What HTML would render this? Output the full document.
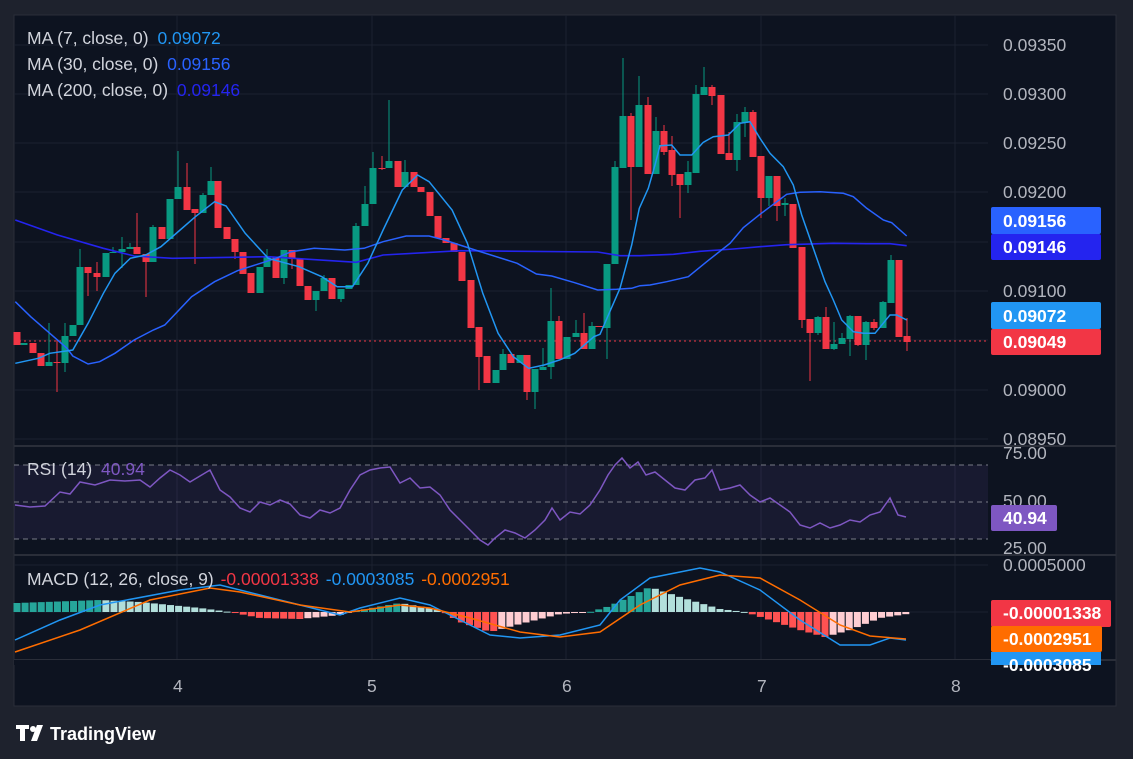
<!DOCTYPE html>
<html><head><meta charset="utf-8"><style>
html,body{margin:0;padding:0;background:#1e222d;}
body{width:1133px;height:759px;overflow:hidden;position:relative;font-family:"Liberation Sans",sans-serif;}
svg{position:absolute;left:0;top:0;}
</style></head><body>
<svg id="s" width="1133" height="759" xmlns="http://www.w3.org/2000/svg" font-family="Liberation Sans, sans-serif">
<rect x="0" y="0" width="1133" height="759" fill="#1e222d"/>
<rect x="14" y="15" width="1102" height="691" fill="#0d1320" stroke="#2a2e39"/>
<g stroke="#1c2230" stroke-width="1">
<line x1="14" y1="45" x2="988" y2="45"/><line x1="14" y1="94" x2="988" y2="94"/><line x1="14" y1="143" x2="988" y2="143"/><line x1="14" y1="192" x2="988" y2="192"/><line x1="14" y1="242" x2="988" y2="242"/><line x1="14" y1="291" x2="988" y2="291"/><line x1="14" y1="340" x2="988" y2="340"/><line x1="14" y1="390" x2="988" y2="390"/><line x1="14" y1="439" x2="988" y2="439"/>
<line x1="177" y1="15" x2="177" y2="660"/><line x1="372" y1="15" x2="372" y2="660"/><line x1="566" y1="15" x2="566" y2="660"/><line x1="761" y1="15" x2="761" y2="660"/><line x1="955" y1="15" x2="955" y2="660"/>
<line x1="14" y1="565" x2="988" y2="565"/><line x1="14" y1="612" x2="988" y2="612"/>
</g>
<g stroke="#2a2e39" stroke-width="2"><line x1="14" y1="446" x2="1116" y2="446"/><line x1="14" y1="555" x2="1116" y2="555"/><line x1="14" y1="660" x2="1116" y2="660"/></g>
<rect x="14" y="465" width="974" height="74" fill="#7e57c2" fill-opacity="0.1"/>
<g stroke="#787b86" stroke-dasharray="5,4" stroke-width="1"><line x1="14" y1="465" x2="988" y2="465"/><line x1="14" y1="502" x2="988" y2="502"/><line x1="14" y1="539" x2="988" y2="539"/></g>
<line x1="14" y1="341" x2="988" y2="341" stroke="#f23645" stroke-dasharray="2,3"/>
<g id="candles"></g>
<g id="lines"></g>
<g id="hist"></g>
<g fill="#b2b5be" font-size="17.5">
<text x="1003" y="51">0.09350</text><text x="1003" y="100">0.09300</text><text x="1003" y="149">0.09250</text><text x="1003" y="198">0.09200</text><text x="1003" y="297">0.09100</text><text x="1003" y="396">0.09000</text><text x="1003" y="445">0.08950</text>
<text x="1003" y="459">75.00</text><text x="1003" y="507">50.00</text><text x="1003" y="554">25.00</text>
<text x="1003" y="571">0.0005000</text>
<text x="173" y="692">4</text><text x="367" y="692">5</text><text x="562" y="692">6</text><text x="757" y="692">7</text><text x="951" y="692">8</text>
</g>
<g font-size="17.5" font-weight="bold" fill="#fff">
<rect x="991" y="207" width="110" height="27" rx="2" fill="#2962ff"/><text x="1003" y="227">0.09156</text>
<rect x="991" y="234" width="110" height="26" rx="2" fill="#2424ef"/><text x="1003" y="253">0.09146</text>
<rect x="991" y="302" width="110" height="27" rx="2" fill="#2196f3"/><text x="1003" y="322">0.09072</text>
<rect x="991" y="329" width="110" height="26" rx="2" fill="#f23645"/><text x="1003" y="348">0.09049</text>
<rect x="991" y="505" width="66" height="26" rx="2" fill="#7e57c2"/><text x="1003" y="524">40.94</text>
<rect x="991" y="652" width="110" height="13" fill="#2196f3"/><text x="1003" y="671">-0.0003085</text>
<rect x="991" y="600" width="120" height="27" rx="2" fill="#f23645"/><text x="1003" y="619">-0.00001338</text>
<rect x="991" y="626" width="111" height="26" rx="2" fill="#ff6d00"/><text x="1003" y="645">-0.0002951</text>
</g>
<rect x="14" y="660" width="976" height="5" fill="#0d1320"/>
<g font-size="17.5">
<text x="27" y="44" fill="#d1d4dc">MA (7, close, 0) <tspan fill="#2196f3" dx="4">0.09072</tspan></text>
<text x="27" y="70" fill="#d1d4dc">MA (30, close, 0) <tspan fill="#2962ff" dx="4">0.09156</tspan></text>
<text x="27" y="96" fill="#d1d4dc">MA (200, close, 0) <tspan fill="#2424ef" dx="4">0.09146</tspan></text>
<text x="27" y="475" fill="#d1d4dc">RSI (14) <tspan fill="#7e57c2" dx="4">40.94</tspan></text>
<text x="27" y="585" fill="#d1d4dc">MACD (12, 26, close, 9) <tspan fill="#f23645" dx="2">-0.00001338</tspan> <tspan fill="#2196f3" dx="2">-0.0003085</tspan> <tspan fill="#ff6d00" dx="2">-0.0002951</tspan></text>
</g>
<g fill="#fff"><path d="M16 725 h13 v4 h-4 v12 h-5 v-12 h-4z"/><circle cx="33" cy="729" r="3"/><path d="M37 725 h6 l-6 16 h-6z"/></g>
<text x="50" y="740" font-size="18" font-weight="bold" fill="#fff">TradingView</text>
</svg>
<script>
var C=[[17,332,345,'R'],[24,343,345,'G'],[33,343,353,'R'],[41,353,366,'R'],[49,362,366,'G',323,366],[57,362,363,'R',340,392],[65,336,363,'G',323,372],[73,325,336,'G'],[80,267,325,'G',249,325],[88,267,273,'R',267,296],[97,273,277,'R',262,291],[106,253,277,'G'],[113,252,253,'G',247,253],[122,249,252,'G',237,268],[130,247,249,'G',243,249],[137,247,254,'R',213,254],[146,254,262,'R',254,297],[153,227,262,'G',225,262],[162,227,239,'R'],[170,199,239,'G'],[178,187,199,'G',151,199],[187,187,210,'R',163,210],[195,209,213,'R',209,264],[203,195,213,'G',193,213],[211,181,195,'G',167,195],[218,181,228,'R'],[227,227,239,'R'],[235,239,252,'R',239,259],[243,252,274,'R'],[251,273,293,'R'],[260,267,293,'G'],[267,257,267,'G',249,267],[276,257,278,'R'],[284,250,278,'G',250,284],[292,250,259,'R',250,269],[300,259,286,'R'],[308,286,300,'R'],[316,291,300,'G',291,311],[324,278,291,'G',275,291],[332,278,299,'R'],[341,289,299,'G',289,302],[349,285,289,'G'],[356,226,285,'G',223,285],[365,204,226,'G',186,226],[373,168,204,'G',152,204],[382,168,169,'R',156,170],[389,161,168,'G',100,168],[398,161,187,'R'],[405,172,187,'G',160,187],[414,172,187,'R'],[421,187,192,'R'],[430,192,216,'R'],[438,216,238,'R'],[446,238,243,'R'],[454,243,252,'R'],[462,252,281,'R'],[471,280,328,'R'],[479,327,357,'R',327,390],[487,356,383,'R'],[496,370,383,'G'],[503,354,370,'G',349,370],[511,354,363,'R'],[520,355,363,'G'],[527,355,392,'R',355,400],[535,369,392,'G',369,409],[543,367,370,'G',348,370],[551,321,367,'G',288,379],[559,321,359,'R',316,359],[567,337,359,'G'],[576,333,337,'G',320,337],[584,333,349,'R',313,349],[592,326,349,'G',322,349],[599,326,327,'R'],
[607,264,328,'G',264,359],[615,167,264,'G',161,264],[623,116,168,'G',58,168],[631,116,167,'R',113,220],[639,105,167,'G',76,167],[648,105,174,'R',97,174],[656,131,174,'G',117,174],[664,131,152,'R',125,155],[672,150,175,'R',136,186],[680,174,185,'R',174,218],[688,172,185,'G',161,193],[696,94,173,'G',85,173],[704,87,95,'G',67,95],[712,87,96,'R',85,105],[721,95,154,'R'],[729,153,160,'R',132,160],[737,122,160,'G',114,171],[745,112,123,'G',107,137],[753,112,157,'R',110,157],[761,156,198,'R',156,218],[769,176,198,'G',176,206],[777,176,206,'R',176,221],[785,203,205,'G',198,216],[793,204,248,'R'],[802,247,320,'R',247,328],[810,319,333,'R',319,381],[818,317,333,'G',316,335],[826,317,349,'R',307,349],[834,344,349,'G',322,350],[842,338,344,'G',333,344],[850,316,339,'G',315,356],[858,316,345,'R',316,346],[866,322,345,'G',321,360],[874,322,328,'R',319,330],[883,302,328,'G',301,328],[891,260,303,'G',255,303],[899,260,337,'R'],[907,336,342,'R',318,351]];
var h='';
C.forEach(function(c){var col=c[3]=='G'?'#089981':'#f23645';var wt=c[4]||c[1],wb=c[5]||c[2];
h+='<line x1="'+c[0]+'" y1="'+wt+'" x2="'+c[0]+'" y2="'+wb+'" stroke="'+col+'"/>';
h+='<rect x="'+(c[0]-3.5)+'" y="'+c[1]+'" width="7" height="'+Math.max(1,c[2]-c[1])+'" fill="'+col+'"/>';});
document.getElementById('candles').innerHTML=h;
function pl(pts,col,w){return '<polyline fill="none" stroke="'+col+'" stroke-width="'+(w||1.5)+'" points="'+pts.map(function(p){return p[0].toFixed(1)+','+p[1].toFixed(1)}).join(' ')+'"/>';}
function z1(a){return a.map(function(p){return [p[0]/2.61,p[1]/3]})}
function z3(a){return a.map(function(p){return [600+p[0]/3,55+p[1]/3]})}
var ma7=z1([[40,1090],[100,1075],[130,1060],[190,1050],[230,970],[270,880],[300,820],[340,775],[380,765],[420,740],[470,690],[510,650],[560,605],[590,618],[640,700],[700,775],[780,800],[840,830],[880,860],[920,860],[960,790],[1000,690],[1050,570],[1090,525],[1120,545],[1180,630],[1220,730],[1260,880],[1300,1000],[1340,1070],[1380,1105],[1420,1095],[1460,1080],[1500,1060],[1550,1010]]).concat(z3([[0,838],[60,700],[95,570],[118,460],[145,400],[165,330],[180,272],[215,270],[240,300],[275,300],[310,262],[340,245],[385,240],[420,205],[450,200],[480,250],[510,295],[550,335],[580,390],[605,480],[640,580],[675,680],[700,735],[725,795],[760,830],[790,835],[825,835],[870,780],[890,780],[920,795]]));
var ma30=z1([[40,905],[80,950],[130,1000],[175,1045],[190,1068],[230,1092],[260,1085],[300,1060],[350,1020],[400,990],[430,975],[500,890],[560,845],[620,812],[680,790],[720,775],[760,755],[820,745],[900,750],[950,745],[1000,725],[1060,708],[1120,708],[1160,720],[1240,750],[1350,790],[1400,822],[1440,828],[1500,848],[1560,870]]).concat(z3([[50,703],[95,700],[120,692],[150,690],[200,680],[265,665],[320,620],[390,565],[430,518],[480,478],[520,448],[560,418],[600,412],[660,410],[730,415],[760,425],[800,460],[850,495],[875,503],[920,543]]));
var ma200=z1([[40,660],[150,705],[270,745],[350,768],[450,775],[700,770],[930,787],[1000,765],[1200,752],[1560,756]]).concat(z3([[60,602],[120,602],[220,598],[300,589],[400,582],[480,575],[560,569],[700,565],[800,566],[870,566],[920,572]]));
var rsi=[[15,505],[30,507],[45,506],[60,492],[70,494],[80,482],[95,485],[110,480],[125,481],[140,480],[150,487],[160,478],[170,470],[180,475],[190,482],[200,476],[210,470],[220,490],[230,497],[240,508],[250,512],[260,502],[270,505],[280,500],[290,504],[300,515],[310,518],[320,510],[330,513],[340,508],[350,490],[360,475],[370,470],[380,468],[390,467],[400,483],[410,478],[420,488],[430,487],[440,495],[450,510],[460,520],[470,530],[480,540],[488,545],[495,538],[505,530],[515,533],[525,538],[535,530],[545,520],[552,508],[560,520],[570,512],[580,514],[590,505],[600,490],[608,475],[615,465],[622,458],[630,468],[638,462],[646,475],[655,472],[665,480],[675,488],[685,490],[695,480],[705,478],[712,470],[720,490],[730,488],[740,485],[750,495],[760,502],[770,498],[780,505],[790,512],[800,525],[810,528],[820,523],[830,528],[840,525],[850,520],[860,522],[870,515],[880,512],[890,498],[898,515],[906,517]];
var macd=[[15,640],[60,620],[100,605],[180,590],[220,585],[260,595],[300,605],[340,615],[360,608],[400,598],[430,605],[470,625],[490,635],[520,638],[560,635],[600,625],[620,600],[650,578],[700,568],[720,572],[760,590],[800,620],[840,645],[870,645],[890,638],[906,640]];
var sig=[[15,652],[80,630],[150,600],[210,588],[240,592],[300,605],[350,612],[400,605],[430,608],[470,618],[520,632],[560,637],[600,632],[640,605],[680,585],[720,575],[760,578],[800,600],[840,625],[870,636],[906,639]];
var hs='';
function hv(x){var k=[[17,9],[100,12],[140,10],[200,4],[230,0],[260,-6],[300,-7],[340,-3],[360,2],[400,9],[440,2],[460,-10],[490,-20],[520,-12],[560,-2],[590,0],[610,6],[650,25],[680,15],[720,3],[745,0],[770,-8],[800,-18],[825,-25],[850,-18],[880,-6],[907,-2]];
for(var i=0;i<k.length-1;i++){if(x>=k[i][0]&&x<=k[i+1][0]){var t=(x-k[i][0])/(k[i+1][0]-k[i][0]);return k[i][1]+t*(k[i+1][1]-k[i][1]);}}return 0;}
var prev=0;for(var x=17;x<=907;x+=8.08){var v=hv(x);var col=v>=0?(v>=prev?'#26a69a':'#b2dfdb'):(v<=prev?'#ff5252':'#ffcdd2');
hs+='<rect x="'+(x-3.5)+'" y="'+(v>=0?612-v:612)+'" width="7" height="'+Math.max(1,Math.abs(v))+'" fill="'+col+'"/>';prev=v;}
document.getElementById('hist').innerHTML=hs+pl(macd,'#2196f3',1.5)+pl(sig,'#ff6d00',1.5);
document.getElementById('lines').innerHTML=pl(ma200,'#2424ef',1.6)+pl(ma30,'#2962ff',1.5)+pl(ma7,'#2196f3',1.5)+pl(rsi,'#7e57c2',1.5);
</script>
</body></html>
